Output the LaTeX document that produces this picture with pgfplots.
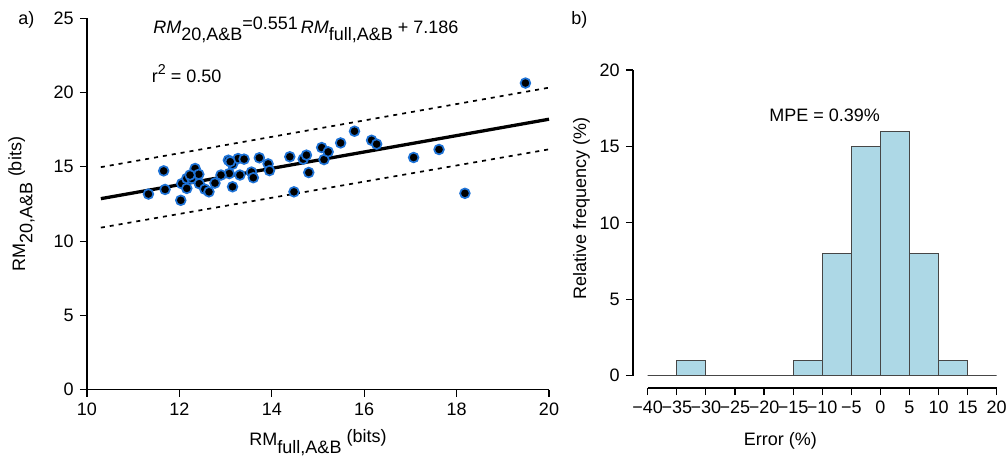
\documentclass[border=0pt]{standalone}
\usepackage{pgfplots}
\pgfplotsset{compat=1.18}
\usepackage{fontspec}
\setmainfont{Liberation Sans}
\definecolor{ringblue}{RGB}{30,115,215}
\definecolor{barfill}{RGB}{173,216,230}
\definecolor{baredge}{RGB}{70,70,70}
\newcommand{\lo}[1]{\raisebox{-0.4em}{#1}}
\newcommand{\hi}[1]{\raisebox{0.2em}{#1}}
\begin{document}
\fontsize{12.6}{15}\selectfont
\begin{tikzpicture}
\useasboundingbox (0,0) rectangle (704.9pt,322.7pt);
\pgfplotsset{
  common/.style={
    scale only axis, anchor=south west,
    axis x line*=bottom, axis y line*=left,
    tick align=outside, major tick length=5pt,
    tick style={black, line width=0.8pt},
    /pgf/number format/assume math mode=true,
    clip=false,
  }
}
% ---------------- panel a
\begin{axis}[common,
  at={(60.9pt,49.86pt)}, width=323.4pt, height=260.05pt,
  xmin=10, xmax=20, ymin=0, ymax=25,
  axis line style={-, line width=1pt},
  xtick={10,12,...,20}, ytick={0,5,...,25},
  xlabel={RM\lo{full,A\&B}\raisebox{0.2em}{\ (bits)}},
  ylabel={RM\lo{20,A\&B}\raisebox{0.2em}{\ (bits)}},
  xlabel style={at={(axis description cs:0.5,0)}, anchor=base, yshift=-39.3pt},
  ylabel style={at={(axis description cs:-0.134,0.5)}, anchor=base},
]
\addplot[black, line width=1.2pt, dash pattern=on 2.8pt off 3.5pt] coordinates {(10.3,14.98) (20,20.33)};
\addplot[black, line width=1.2pt, dash pattern=on 2.8pt off 3.5pt] coordinates {(10.3,10.91) (20,16.18)};
\addplot[black, line width=2.3pt] coordinates {(10.3,12.86) (20,18.206)};
\addplot[only marks, mark=*, mark size=3.4pt, mark options={fill=black, draw=ringblue, line width=1.2pt}] coordinates {
(11.33,13.17) (11.66,14.73) (11.69,13.48) (12.03,12.75) (12.05,13.87) (12.16,14.22)
(12.16,13.55) (12.27,14.22) (12.34,14.89) (12.42,14.50) (12.43,13.87) (12.55,13.50)
(12.64,13.32) (12.77,13.91) (13.06,15.45) (13.08,14.55) (13.15,15.18) (13.15,13.66)
(13.27,15.56) (13.31,14.45) (13.40,15.52) (13.56,14.65) (13.60,14.27) (13.73,15.61)
(13.92,15.20) (13.95,14.75) (14.39,15.68) (14.48,13.32) (14.68,15.52) (14.75,15.79)
(14.80,14.62) (15.08,16.30) (15.13,15.49) (15.22,16.01) (15.49,16.61) (15.79,17.40)
(16.16,16.79) (16.27,16.53) (17.07,15.63) (17.62,16.17) (18.18,13.22) (19.49,20.64)
(12.23,14.45) (13.10,15.35) (12.90,14.45)
};
\node[anchor=base west, inner sep=0] at (axis cs:11.43,24.0)
  {\textit{RM}\lo{20,A\&B}\hi{=0.551}\,\textit{RM}\lo{full,A\&B} + 7.186};
\node[anchor=base west, inner sep=0] at (axis cs:11.40,20.7)
  {r\raisebox{0.45em}{\fontsize{10}{11}\selectfont 2} = 0.50};
\end{axis}
% ---------------- panel b
\begin{axis}[common,
  at={(443.1pt,51.1pt)}, width=254.6pt, height=222.6pt,
  xmin=-42.53, xmax=20, ymin=-0.805, ymax=20,
  axis line style={draw=none},
  xtick={-40,-35,...,20},
  xticklabels={−40,−35,−30,−25,−20,−15,−10,−5,0,5,10,15,20},
  ytick={0,5,10,15,20},
  xlabel={Error (\%)},
  ylabel={Relative frequency (\%)},
  xlabel style={at={(axis description cs:0.4054,0)}, anchor=base, yshift=-40.6pt},
  ylabel style={at={(axis description cs:-0.129,0.563)}, anchor=base},
]
\addplot[ybar interval, fill=barfill, draw=baredge, line width=0.7pt] coordinates {
(-40,0) (-35,1) (-30,0) (-25,0) (-20,0) (-15,1) (-10,8) (-5,15) (0,16) (5,8) (10,1) (15,0) (20,0)};
\draw[line width=0.8pt] (axis cs:-40,-0.805) -- (axis cs:20,-0.805);
\draw[line width=0.8pt] (axis cs:-42.53,0) -- (axis cs:-42.53,20);
\node[anchor=base] at (axis cs:-9.6,16.62) {MPE = 0.39\%};
\end{axis}
\node[anchor=base west, inner sep=0] at (12.6pt,305.2pt) {a)};
\node[anchor=base west, inner sep=0] at (399.7pt,305.2pt) {b)};
\end{tikzpicture}
\end{document}
